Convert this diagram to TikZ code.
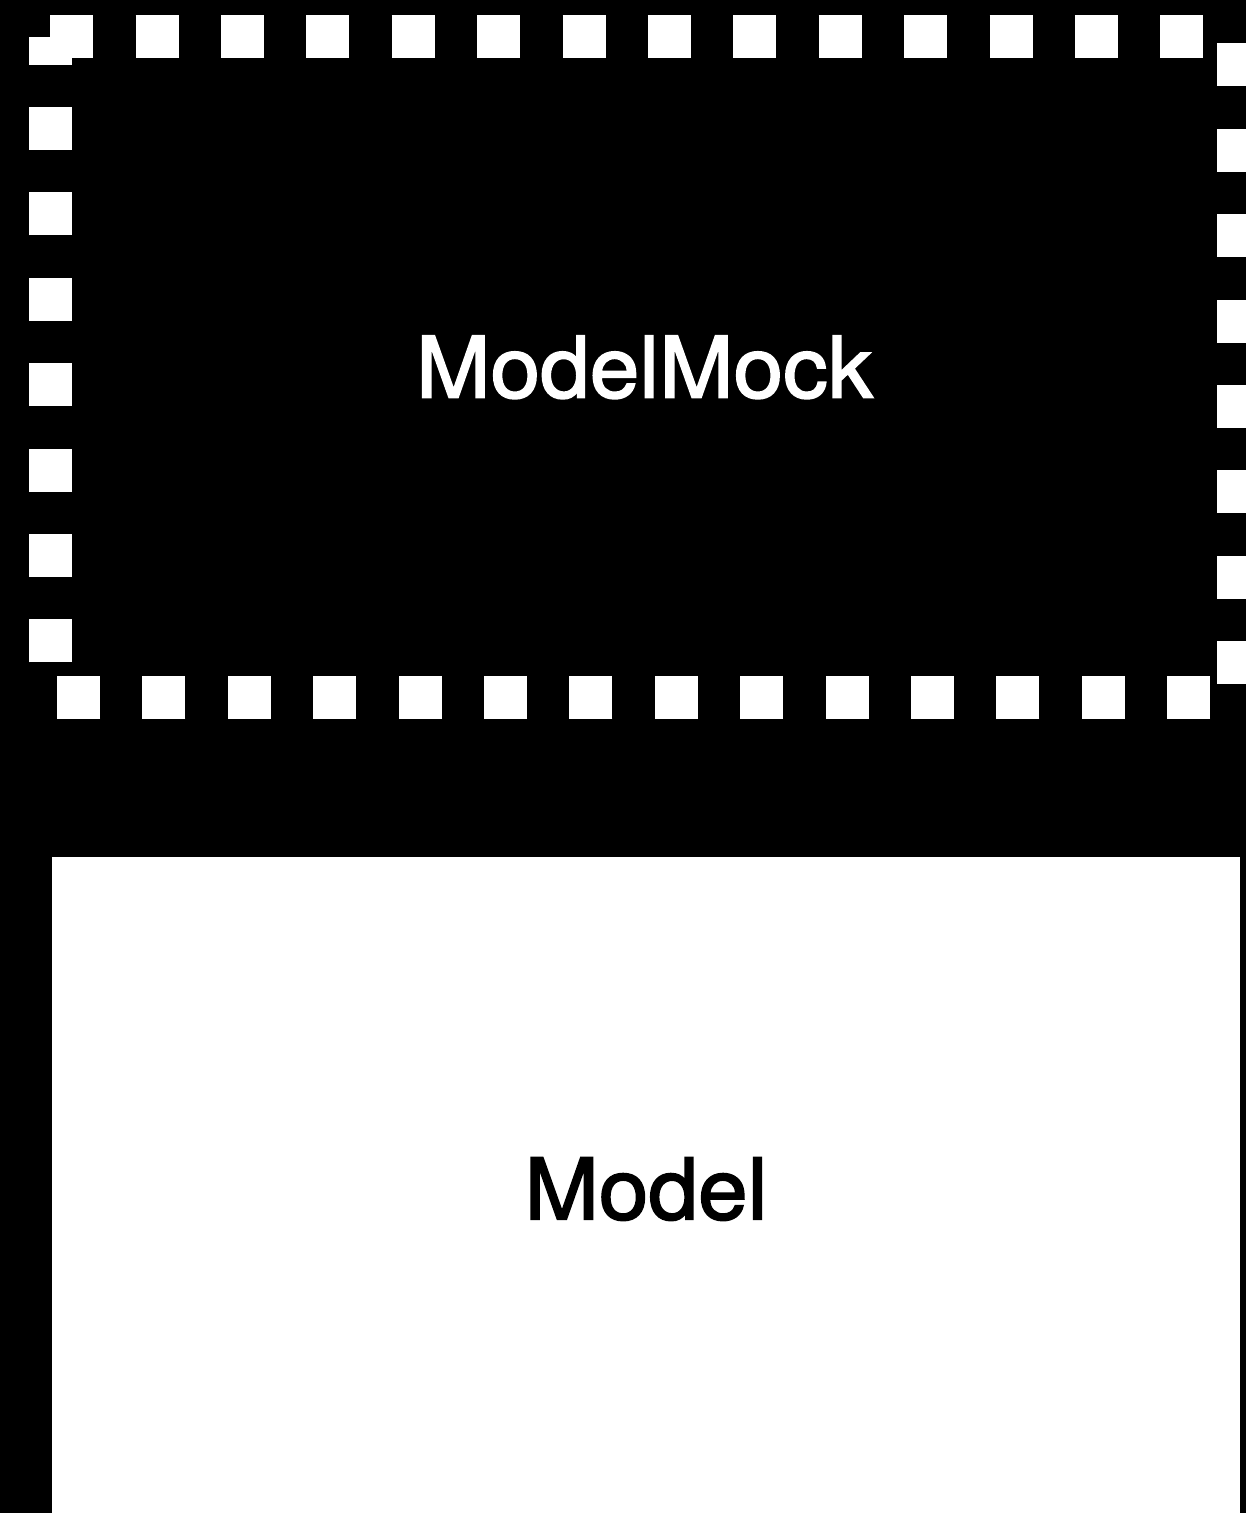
\documentclass[tikz,border=0pt]{standalone}
\usepackage{fontspec}
\setmainfont{TeX Gyre Heros}[FakeBold=2,FakeStretch=1.05]
\usepackage{tikz}

\tikzset{
    boxfont/.style={font=\fontsize{42.5}{50}\selectfont},
    mockbox/.style={boxfont, text=white, inner sep=0pt, minimum width=594pt, minimum height=330.25pt},
    mockborder/.style={draw=white, line width=21.5pt, dash pattern=on 21.5pt off 21.2pt},
    modelbox/.style={boxfont, fill=white, text=black, inner sep=0pt, minimum width=594pt, minimum height=332pt}
}

\begin{document}
\begin{tikzpicture}[x=0.5pt,y=-0.5pt]
        \useasboundingbox (0,0) rectangle (1246,1513);
        \fill[black] (0,0) rectangle (1246,1513);
        \node[mockbox] (mock) at (644.5,367.25) {ModelMock};
        \draw[mockborder] (mock.north west) -- (mock.north east) -- (mock.south east) -- (mock.south west) -- (mock.north west);
        \node[modelbox] (model) at (646,1189) {Model};
    \end{tikzpicture}
\end{document}
